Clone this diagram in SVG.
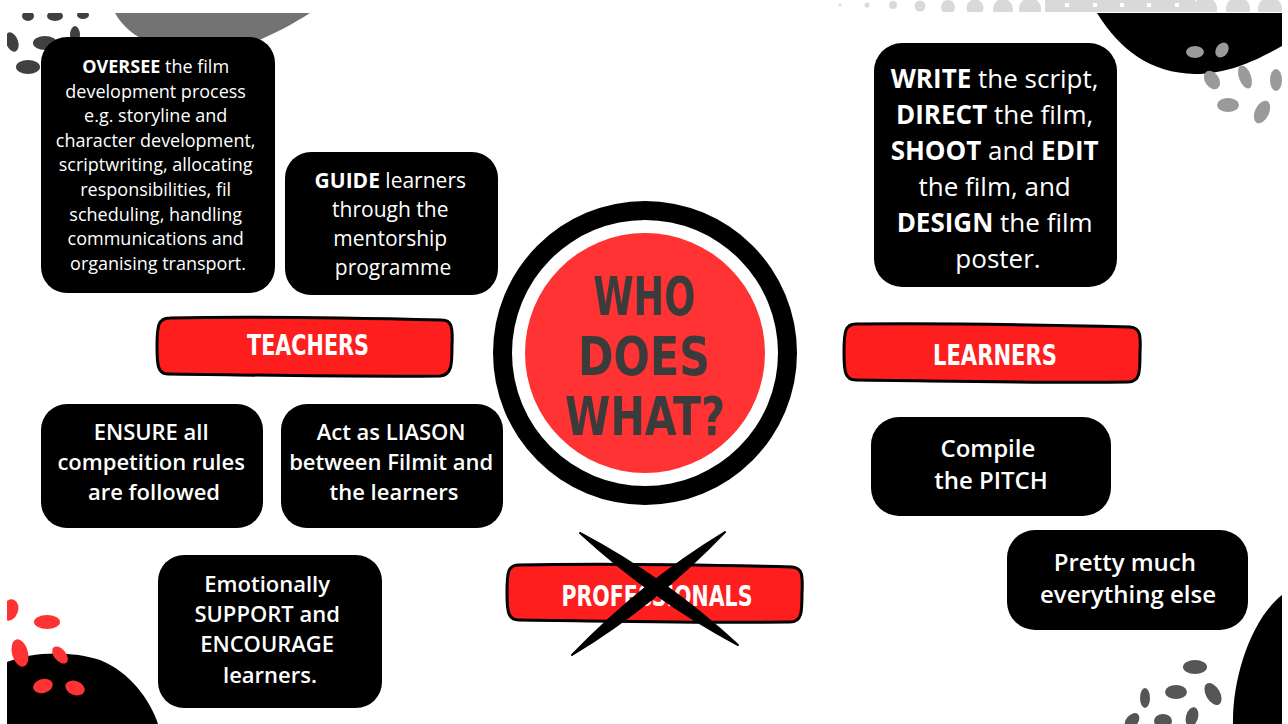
<svg xmlns="http://www.w3.org/2000/svg" width="1288" height="724" viewBox="0 0 1288 724">
<defs>
<style>
.box{fill:#000}
.t{font-family:"Open Sans","Liberation Sans",sans-serif;fill:#fff;text-anchor:middle}
.b{font-weight:700}
.sb{font-weight:600}
.ban{fill:#ff1e1e;stroke:#000;stroke-width:3}
.bt{font-family:"Liberation Sans Narrow","DejaVu Sans Condensed","Liberation Sans",sans-serif;font-weight:700;fill:#fff;text-anchor:middle}
.ct{font-family:"Liberation Sans Narrow","DejaVu Sans Condensed","Liberation Sans",sans-serif;font-weight:700;fill:#3b3b3b;text-anchor:middle}
.dg{fill:#404040}
.lg{fill:#9a9a9a}
.rd{fill:#ff3333}
.mg{fill:#555}
</style>
<clipPath id="band"><rect x="830" y="0" width="452" height="12"/></clipPath>
<clipPath id="slide"><rect x="7" y="13" width="1275" height="711"/></clipPath>
</defs>
<rect width="1288" height="724" fill="#fff"/>

<g id="top-band" clip-path="url(#band)" fill="#d9d9d9">
<circle cx="840" cy="5" r="1.5"/>
<circle cx="867" cy="5" r="2.5"/>
<circle cx="893" cy="5" r="4"/>
<circle cx="920" cy="6" r="5.5"/>
<circle cx="948" cy="7" r="7"/>
<circle cx="975" cy="8" r="8.5"/>
<circle cx="1003" cy="9" r="10"/>
<circle cx="1030" cy="9" r="11"/>
<rect x="1045" y="0" width="150" height="12"/>
<circle cx="1205" cy="9" r="12"/>
<circle cx="1238" cy="9" r="12"/>
<circle cx="1270" cy="9" r="12"/>
<g fill="#fff">
<rect x="1065" y="3" width="4" height="4"/>
<rect x="1093" y="3" width="4" height="4"/>
<rect x="1120" y="3" width="4" height="4"/>
<rect x="1147" y="3" width="4" height="4"/>
<rect x="1175" y="3" width="4" height="4"/>
</g>
</g>

<g id="decor" clip-path="url(#slide)">
<path d="M115,13 C130,40 165,53 200,53 C240,53 280,32 310,13 Z" fill="#737373"/>
<ellipse class="dg" cx="28" cy="16" rx="6" ry="5"/>
<ellipse class="dg" cx="55" cy="16" rx="8" ry="5"/>
<ellipse class="dg" cx="83" cy="15" rx="6" ry="4"/>
<ellipse class="dg" cx="12" cy="42" rx="6" ry="10" transform="rotate(-20 12 42)"/>
<ellipse class="dg" cx="45" cy="43" rx="12" ry="7"/>
<ellipse class="dg" cx="75" cy="35" rx="5" ry="9"/>
<ellipse class="dg" cx="28" cy="67" rx="12" ry="7"/>

<path d="M1097,13 C1120,50 1150,73 1195,74 C1230,74 1260,58 1282,46 L1282,13 Z" fill="#000"/>
<ellipse class="lg" cx="1195" cy="52" rx="9" ry="6"/>
<ellipse class="lg" cx="1222" cy="50" rx="6" ry="8" transform="rotate(35 1222 50)"/>
<ellipse class="lg" cx="1212" cy="80" rx="7" ry="10" transform="rotate(-35 1212 80)"/>
<ellipse class="lg" cx="1245" cy="77" rx="6" ry="12" transform="rotate(-20 1245 77)"/>
<ellipse class="lg" cx="1276" cy="80" rx="6" ry="11"/>
<ellipse class="lg" cx="1228" cy="105" rx="11" ry="7"/>
<ellipse class="lg" cx="1262" cy="112" rx="7" ry="12" transform="rotate(25 1262 112)"/>

<path d="M7,662 C30,652 70,650 100,660 C130,672 150,700 158,724 L7,724 Z" fill="#000"/>
<ellipse class="rd" cx="10" cy="610" rx="8" ry="11" transform="rotate(20 10 610)"/>
<ellipse class="rd" cx="47" cy="622" rx="13" ry="7"/>
<ellipse class="rd" cx="20" cy="653" rx="8" ry="14" transform="rotate(-15 20 653)"/>
<ellipse class="rd" cx="60" cy="655" rx="6" ry="10" transform="rotate(-40 60 655)"/>
<ellipse class="rd" cx="43" cy="686" rx="10" ry="7" transform="rotate(-15 43 686)"/>
<ellipse class="rd" cx="75" cy="688" rx="10" ry="7" transform="rotate(20 75 688)"/>

<path d="M1233,724 C1232,680 1250,620 1282,595 L1282,724 Z" fill="#000"/>
<ellipse class="mg" cx="1195" cy="667" rx="12" ry="7"/>
<ellipse class="mg" cx="1176" cy="692" rx="11" ry="7"/>
<ellipse class="mg" cx="1213" cy="694" rx="7" ry="12" transform="rotate(-30 1213 694)"/>
<ellipse class="mg" cx="1145" cy="698" rx="5" ry="10"/>
<ellipse class="mg" cx="1132" cy="721" rx="6" ry="9" transform="rotate(40 1132 721)"/>
<ellipse class="mg" cx="1163" cy="721" rx="9" ry="7"/>
<ellipse class="mg" cx="1192" cy="717" rx="6" ry="10" transform="rotate(15 1192 717)"/>
</g>

<g id="connectors"></g>

<g id="center">
<circle cx="645" cy="353" r="152" fill="#000"/>
<circle cx="645" cy="353" r="133" fill="#fff"/>
<circle cx="645" cy="353" r="120" fill="#ff3333"/>
<text class="ct" x="644" y="315" font-size="53" textLength="102" lengthAdjust="spacingAndGlyphs">WHO</text>
<text class="ct" x="644" y="375" font-size="53" textLength="132" lengthAdjust="spacingAndGlyphs">DOES</text>
<text class="ct" x="645" y="435" font-size="53" textLength="160" lengthAdjust="spacingAndGlyphs">WHAT?</text>
</g>

<g id="oversee">
<rect class="box" x="41" y="37" width="234" height="256" rx="26"/>
<text class="t" font-size="18">
<tspan x="158" y="73"><tspan class="b">OVERSEE</tspan> the film</tspan>
<tspan x="158" y="97.6">development process</tspan>
<tspan x="158" y="122.2">e.g. storyline and</tspan>
<tspan x="158" y="146.8">character development,</tspan>
<tspan x="158" y="171.4">scriptwriting, allocating</tspan>
<tspan x="158" y="196">responsibilities, fil</tspan>
<tspan x="158" y="220.6">scheduling, handling</tspan>
<tspan x="158" y="245.2">communications and</tspan>
<tspan x="158" y="269.8">organising transport.</tspan>
</text>
</g>

<g id="guide">
<rect class="box" x="285" y="152" width="213" height="143" rx="26"/>
<text class="t" font-size="21">
<tspan x="393" y="188"><tspan class="b">GUIDE</tspan> learners</tspan>
<tspan x="393" y="217">through the</tspan>
<tspan x="393" y="246">mentorship</tspan>
<tspan x="393" y="275">programme</tspan>
</text>
</g>

<g id="write">
<rect class="box" x="874" y="43" width="243" height="244" rx="28"/>
<text class="t" font-size="26">
<tspan x="998" y="88"><tspan class="b">WRITE</tspan> the script,</tspan>
<tspan x="998" y="124"><tspan class="b">DIRECT</tspan> the film,</tspan>
<tspan x="998" y="160"><tspan class="b">SHOOT</tspan> and <tspan class="b">EDIT</tspan></tspan>
<tspan x="998" y="196">the film, and</tspan>
<tspan x="998" y="232"><tspan class="b">DESIGN</tspan> the film</tspan>
<tspan x="998" y="268">poster.</tspan>
</text>
</g>

<g id="teachers">
<path class="ban" d="M170,318 C260,316 360,318 442,320 C451,320 453,326 452,345 C452,364 452,375 440,376 C350,377 260,375 168,374 C158,374 157,366 157,346 C157,326 158,318 170,318 Z"/>
<text class="bt" x="308" y="355" font-size="28" textLength="122" lengthAdjust="spacingAndGlyphs">TEACHERS</text>
</g>

<g id="learners">
<path class="ban" d="M856,324 C950,323 1050,325 1130,327 C1140,328 1141,334 1140,353 C1140,372 1140,382 1128,382 C1040,383 950,381 856,380 C845,380 844,372 844,352 C844,332 845,324 856,324 Z"/>
<text class="bt" x="995" y="365" font-size="28" textLength="124" lengthAdjust="spacingAndGlyphs">LEARNERS</text>
</g>

<g id="ensure">
<rect class="box" x="41" y="404" width="222" height="124" rx="26"/>
<text class="t sb" font-size="22">
<tspan x="154" y="440">ENSURE all</tspan>
<tspan x="154" y="470">competition rules</tspan>
<tspan x="154" y="500">are followed</tspan>
</text>
</g>

<g id="liason">
<rect class="box" x="281" y="404" width="222" height="124" rx="26"/>
<text class="t sb" font-size="22">
<tspan x="394" y="440">Act as LIASON</tspan>
<tspan x="394" y="470">between Filmit and</tspan>
<tspan x="394" y="500">the learners</tspan>
</text>
</g>

<g id="compile">
<rect class="box" x="871" y="417" width="240" height="99" rx="28"/>
<text class="t sb" font-size="24">
<tspan x="991" y="457">Compile</tspan>
<tspan x="991" y="489">the PITCH</tspan>
</text>
</g>

<g id="pretty">
<rect class="box" x="1007" y="530" width="241" height="100" rx="28"/>
<text class="t sb" font-size="24">
<tspan x="1128" y="571">Pretty much</tspan>
<tspan x="1128" y="603">everything else</tspan>
</text>
</g>

<g id="emotionally">
<rect class="box" x="158" y="555" width="224" height="153" rx="26"/>
<text class="t sb" font-size="22">
<tspan x="270" y="592">Emotionally</tspan>
<tspan x="270" y="622">SUPPORT and</tspan>
<tspan x="270" y="652">ENCOURAGE</tspan>
<tspan x="270" y="683">learners.</tspan>
</text>
</g>

<g id="professionals">
<path class="ban" d="M519,565 C610,563 710,565 792,567 C802,568 803,574 802,593 C802,612 802,622 790,622 C700,623 610,621 519,620 C508,620 507,612 507,592 C507,572 508,565 519,565 Z"/>
<text class="bt" x="657" y="606" font-size="28" textLength="191" lengthAdjust="spacingAndGlyphs">PROFESSIONALS</text>
<path d="M580,533 Q653,600 738,645 Q665,578 580,533 Z" fill="#000" stroke="#000" stroke-width="2" stroke-linejoin="round"/>
<path d="M725,532 Q656,604 572,655 Q641,583 725,532 Z" fill="#000" stroke="#000" stroke-width="2" stroke-linejoin="round"/>
</g>
</svg>
